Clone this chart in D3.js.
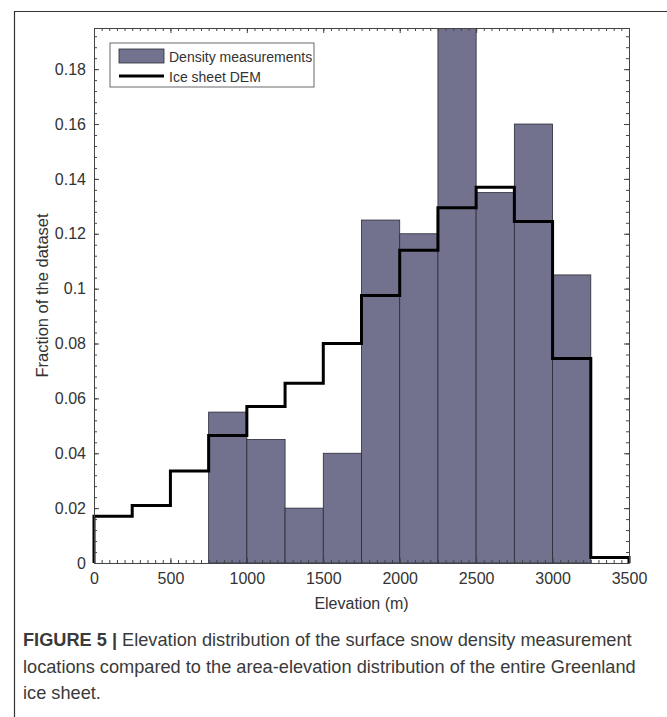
<!DOCTYPE html>
<html lang="en">
<head>
    <meta charset="utf-8">
    <script src="https://d3js.org/d3.v7.min.js"></script>
    <style>
        body {
            margin: 0;
            background: white;
        }

        text {
            font-family: "Liberation Sans", Arial, sans-serif;
            fill: #333;
        }

        .tick text {
            font-size: 16px;
        }

        .axis path, .axis line {
            stroke: #444;
        }

        .caption {
            font-size: 18.2px;
            fill: #3a3a3a;
        }
    </style>
</head>
<body>
<script>
    // histogram bins of the density measurements (250 m bins)
    const densityBins = [750, 1000, 1250, 1500, 1750, 2000, 2250, 2500, 2750, 3000];
    const densityValues = [0.055, 0.045, 0.02, 0.04, 0.125, 0.12, 0.197, 0.135, 0.16, 0.105];

    // area-elevation distribution of the ice sheet
    const demBins = [0, 250, 500, 750, 1000, 1250, 1500, 1750, 2000, 2250, 2500, 2750, 3000, 3250];
    const demValues = [0.017, 0.021, 0.0335, 0.0465, 0.057, 0.0655, 0.080, 0.0975, 0.114, 0.1295, 0.137, 0.1245, 0.0745, 0.002];

    const binWidth = 250;
    const xTicks = [0, 500, 1000, 1500, 2000, 2500, 3000, 3500];
    const yTicks = [0, 0.02, 0.04, 0.06, 0.08, 0.1, 0.12, 0.14, 0.16, 0.18];
    const legendLabels = ['Density measurements', 'Ice sheet DEM'];

    const W = 667, H = 717;
    const margin = {left: 94, right: 38, top: 28, bottom: 154};

    let svg = d3.select('body').append('svg')
        .attr('width', W).attr('height', H);

    // figure frame (left and top edges)
    svg.append('path')
        .attr('d', 'M14.5,' + H + ' V11.5 H' + W)
        .attr('fill', 'none')
        .attr('stroke', '#333')
        .attr('stroke-width', 1.2);

    let x = d3.scaleLinear().domain([0, 3500]).range([margin.left, W - margin.right]);
    let y = d3.scaleLinear().domain([0, 0.195]).range([H - margin.bottom, margin.top]);

    svg.append('clipPath').attr('id', 'plotArea')
        .append('rect')
        .attr('x', x(0)).attr('y', y(0.195))
        .attr('width', x(3500) - x(0)).attr('height', y(0) - y(0.195));

    let plot = svg.append('g').attr('clip-path', 'url(#plotArea)');

    plot.selectAll('rect.bar')
        .data(densityBins)
        .enter().append('rect')
        .attr('class', 'bar')
        .attr('x', function (d) { return x(d); })
        .attr('y', function (d, i) { return y(densityValues[i]); })
        .attr('width', function (d) { return x(d + binWidth) - x(d); })
        .attr('height', function (d, i) { return y(0) - y(densityValues[i]); })
        .attr('fill', '#72728e')
        .attr('stroke', '#2a2a35')
        .attr('stroke-width', 0.8);

    // stairs for the DEM distribution
    let stairs = [[0, 0]];
    demBins.forEach(function (b, i) {
        stairs.push([b, demValues[i]]);
        stairs.push([b + binWidth, demValues[i]]);
    });
    stairs.push([demBins[demBins.length - 1] + binWidth, 0]);

    svg.append('path')
        .datum(stairs)
        .attr('d', d3.line().x(function (d) { return x(d[0]); }).y(function (d) { return y(d[1]); }))
        .attr('fill', 'none')
        .attr('stroke', 'black')
        .attr('stroke-width', 3)
        .attr('stroke-linejoin', 'miter');

    // axes, MATLAB style: ticks pointing inward, box on
    const minorX = d3.range(0, 3501, 50);
    const minorY = d3.range(0, 0.1951, 0.004);

    function drawAxis(axis, tr) {
        return svg.append('g').attr('class', 'axis').attr('transform', tr).call(axis);
    }

    drawAxis(d3.axisBottom(x).tickValues(minorX).tickSize(-3).tickFormat(''), 'translate(0,' + y(0) + ')')
        .select('.domain').remove();
    drawAxis(d3.axisTop(x).tickValues(minorX).tickSize(-3).tickFormat(''), 'translate(0,' + y(0.195) + ')')
        .select('.domain').remove();
    drawAxis(d3.axisLeft(y).tickValues(minorY).tickSize(-3).tickFormat(''), 'translate(' + x(0) + ',0)')
        .select('.domain').remove();
    drawAxis(d3.axisRight(y).tickValues(minorY).tickSize(-3).tickFormat(''), 'translate(' + x(3500) + ',0)')
        .select('.domain').remove();

    drawAxis(d3.axisBottom(x).tickValues(xTicks).tickSizeInner(-5).tickSizeOuter(0).tickPadding(10)
        .tickFormat(d3.format('d')), 'translate(0,' + y(0) + ')');
    drawAxis(d3.axisTop(x).tickValues(xTicks).tickSizeInner(-5).tickSizeOuter(0).tickFormat(''),
        'translate(0,' + y(0.195) + ')');
    drawAxis(d3.axisLeft(y).tickValues(yTicks).tickSizeInner(-5).tickSizeOuter(0).tickPadding(8)
        .tickFormat(function (d) { return d === 0 ? '0' : String(+d.toFixed(2)); }), 'translate(' + x(0) + ',0)');
    drawAxis(d3.axisRight(y).tickValues(yTicks).tickSizeInner(-5).tickSizeOuter(0).tickFormat(''),
        'translate(' + x(3500) + ',0)');

    svg.selectAll('.tick text').attr('fill', '#333');

    // axis titles
    svg.append('text')
        .attr('x', (x(0) + x(3500)) / 2)
        .attr('y', y(0) + 46)
        .attr('text-anchor', 'middle')
        .style('font-size', '16px')
        .text('Elevation (m)');

    svg.append('text')
        .attr('transform', 'translate(48,' + (y(0) + y(0.195)) / 2 + ') rotate(-90)')
        .attr('text-anchor', 'middle')
        .style('font-size', '16.5px')
        .text('Fraction of the dataset');

    // legend
    let legend = svg.append('g').attr('transform', 'translate(110,43)');
    legend.append('rect')
        .attr('width', 204).attr('height', 44)
        .attr('fill', 'white').attr('stroke', '#444').attr('stroke-width', 0.8);
    legend.append('rect')
        .attr('x', 9).attr('y', 6).attr('width', 45).attr('height', 14)
        .attr('fill', '#72728e').attr('stroke', '#2a2a35').attr('stroke-width', 0.8);
    legend.append('line')
        .attr('x1', 9).attr('x2', 54).attr('y1', 33).attr('y2', 33)
        .attr('stroke', 'black').attr('stroke-width', 3);
    legend.selectAll('text.lab')
        .data(legendLabels)
        .enter().append('text')
        .attr('class', 'lab')
        .attr('x', 59)
        .attr('y', function (d, i) { return 14 + i * 20; })
        .attr('dy', '0.35em')
        .style('font-size', '14px')
        .text(function (d) { return d; });

    // caption
    let caption = svg.append('text').attr('class', 'caption').attr('x', 23);
    let l1 = caption.append('tspan').attr('x', 23).attr('y', 646);
    l1.append('tspan').style('font-weight', 'bold').text('FIGURE 5 | ');
    l1.append('tspan').text('Elevation distribution of the surface snow density measurement');
    caption.append('tspan').attr('x', 23).attr('y', 673)
        .text('locations compared to the area-elevation distribution of the entire Greenland');
    caption.append('tspan').attr('x', 23).attr('y', 699).text('ice sheet.');
</script>
</body>
</html>
